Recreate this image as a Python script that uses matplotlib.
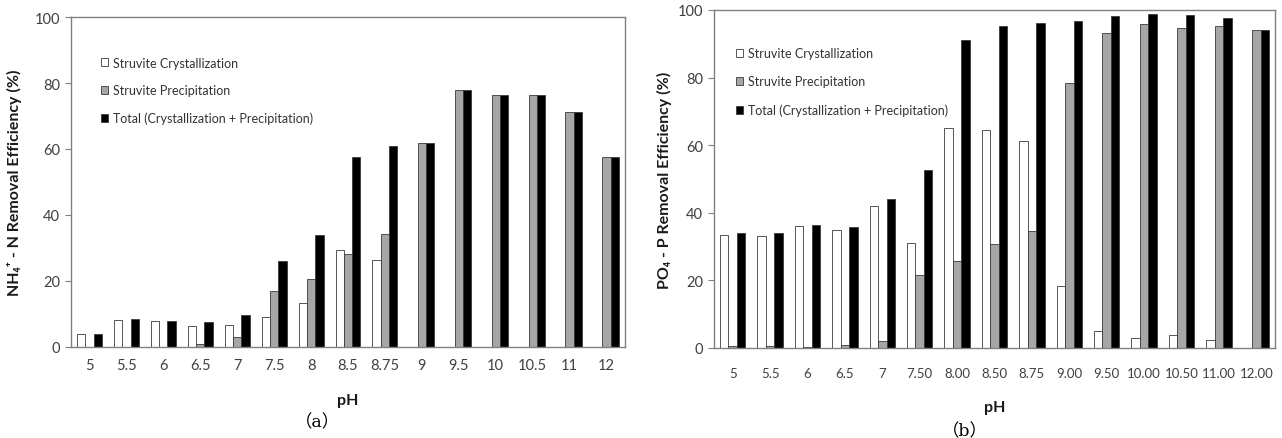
import matplotlib
matplotlib.use("Agg")
import matplotlib.pyplot as plt
import numpy as np

plt.rcParams['font.family'] = ['Lato', 'DejaVu Sans']

# ---- data ----
ph_labels_a = ['5', '5.5', '6', '6.5', '7', '7.5', '8', '8.5', '8.75', '9', '9.5', '10', '10.5', '11', '12']
nh4_cryst = [3.8, 8.3, 7.9, 6.5, 6.7, 9.0, 13.4, 29.3, 26.3, 0, 0, 0, 0, 0, 0]
nh4_precip = [0, 0, 0, 1.0, 3.0, 17.1, 20.5, 28.1, 34.3, 61.9, 77.8, 76.5, 76.3, 71.1, 57.7]
nh4_total = [3.8, 8.4, 8.0, 7.5, 9.8, 26.0, 34.0, 57.6, 60.8, 61.9, 77.8, 76.5, 76.3, 71.1, 57.7]

ph_labels_b = ['5', '5.5', '6', '6.5', '7', '7.50', '8.00', '8.50', '8.75', '9.00', '9.50', '10.00', '10.50', '11.00', '12.00']
po4_cryst = [33.4, 33.2, 36.0, 35.0, 42.1, 31.0, 65.1, 64.5, 61.2, 18.3, 4.9, 3.1, 3.8, 2.4, 0]
po4_precip = [0.7, 0.7, 0.4, 1.0, 2.0, 21.7, 25.8, 30.8, 34.7, 78.5, 93.1, 95.9, 94.7, 95.2, 94.0]
po4_total = [34.0, 34.0, 36.4, 35.9, 44.1, 52.7, 91.1, 95.2, 96.2, 96.7, 98.1, 98.9, 98.5, 97.6, 94.0]

series_names = ['Struvite Crystallization', 'Struvite Precipitation',
                'Total (Crystallization + Precipitation)']
series_colors = ['white', '#a6a6a6', 'black']

fig = plt.figure(figsize=(12.82, 4.39), dpi=100)
ax_a = fig.add_axes([71/1282, 1-348/439, 554/1282, 330/439])
ax_b = fig.add_axes([714/1282, 1-349/439, 561/1282, 338/439])

tick_color = '#404040'
w = 0.225

def draw(ax, labels, vals, ylabel, xpad, xsize, legend_anchor, spacing):
    x = np.arange(len(labels))
    handles = []
    for i, (v, c, n) in enumerate(zip(vals, series_colors, series_names)):
        h = ax.bar(x + (i - 1) * w, v, width=w, color=c, edgecolor='#3a3a3a',
                   linewidth=0.6, label=n)
        handles.append(h)
    ax.set_xlim(-0.5, len(labels) - 0.5)
    ax.set_ylim(0, 100)
    ax.set_yticks([0, 20, 40, 60, 80, 100])
    ax.set_xticks(x)
    ax.set_xticklabels(labels)
    ax.tick_params(axis='x', length=0, pad=xpad, labelsize=xsize, labelcolor=tick_color)
    ax.tick_params(axis='y', length=4, width=0.8, color='#808080', pad=4,
                   labelsize=10.5, labelcolor=tick_color)
    for s in ax.spines.values():
        s.set_color('#808080')
        s.set_linewidth(1.0)
    ax.set_ylabel(ylabel, fontsize=11.5, fontweight='bold', color='#1a1a1a',
                  family=['Lato', 'DejaVu Sans'])
    ax.set_xlabel('pH', fontsize=11.5, fontweight='bold', color='#1a1a1a')
    leg = ax.legend(handles=handles, loc='upper left', bbox_to_anchor=legend_anchor,
                    frameon=False, fontsize=9, handlelength=0.6, handleheight=0.6,
                    handletextpad=0.4, labelspacing=spacing, borderaxespad=0)
    for t in leg.get_texts():
        t.set_color('#333333')
    return ax

draw(ax_a, ph_labels_a, [nh4_cryst, nh4_precip, nh4_total],
     'NH₄⁺ - N Removal Efficiency (%)', 8, 10.5, (0.045, 0.895), 1.25)
draw(ax_b, ph_labels_b, [po4_cryst, po4_precip, po4_total],
     'PO₄ - P Removal Efficiency (%)', 14, 9.5, (0.03, 0.905), 1.3)

ax_a.xaxis.set_label_coords(0.5, -0.14)
ax_b.xaxis.set_label_coords(0.5, -0.155)
ax_a.yaxis.set_label_coords(-0.088, 0.5)
ax_b.yaxis.set_label_coords(-0.075, 0.5)

cap_family = ['DejaVu Serif', 'Noto Sans CJK SC']
fig.text(317/1282, 1-423/439, '（a）', family=cap_family,
         fontsize=12.5, ha='center', va='center')
fig.text(965/1282, 1-432/439, '（b）', family=cap_family,
         fontsize=12.5, ha='center', va='center')

fig.savefig('out.png', dpi=100)
